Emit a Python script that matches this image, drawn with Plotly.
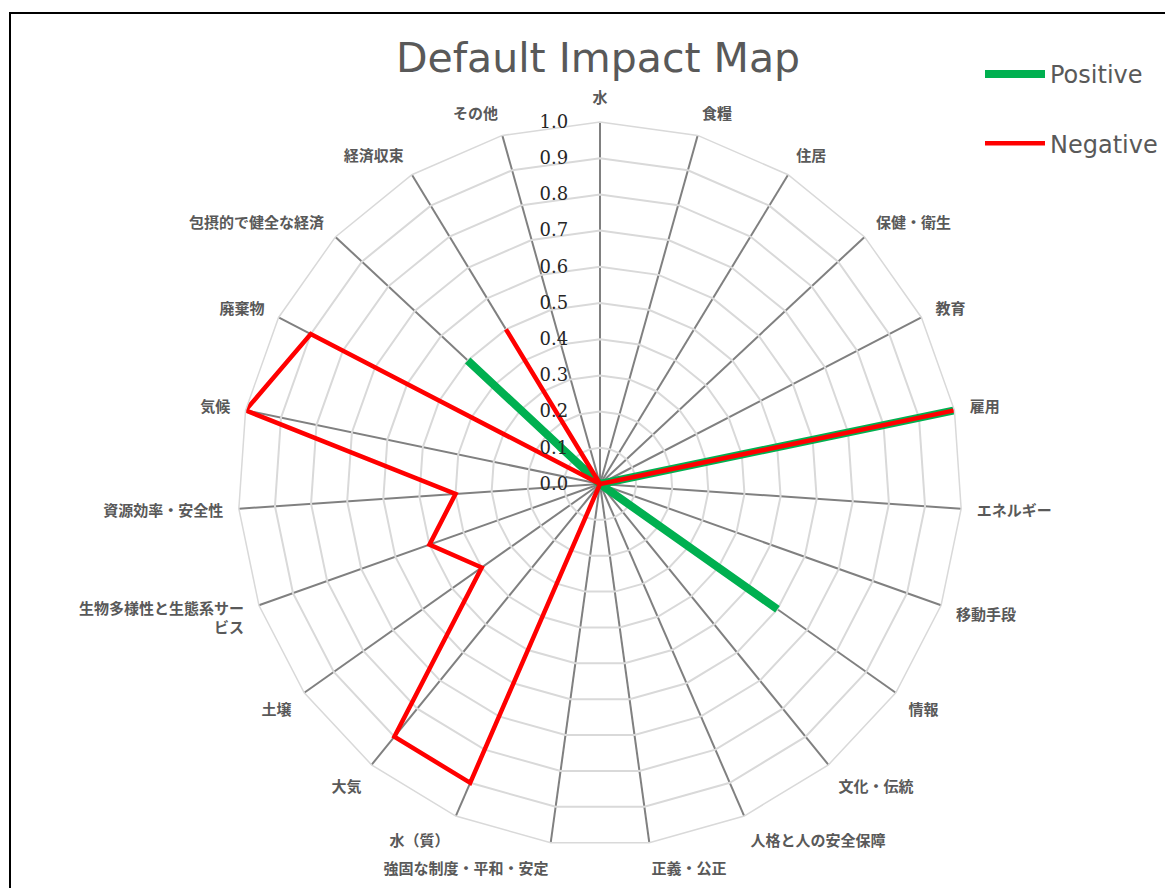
import plotly.graph_objects as go

categories = ["水", "食糧", "住居", "保健・衛生", "教育", "雇用", "エネルギー", "移動手段",
              "情報", "文化・伝統", "人格と人の安全保障", "正義・公正", "強固な制度・平和・安定",
              "水（質）", "大気", "土壌", "生物多様性と生態系サー<br>ビス", "資源効率・安全性",
              "気候", "廃棄物", "包摂的で健全な経済", "経済収束", "その他"]
positive = [0, 0, 0, 0, 0, 1.0, 0, 0, 0.6, 0, 0, 0, 0,
            0, 0, 0, 0, 0, 0, 0, 0.5, 0, 0]
negative = [0, 0, 0, 0, 0, 1.0, 0, 0, 0, 0, 0, 0, 0,
            0.9, 0.9, 0.4, 0.5, 0.4, 1.0, 0.9, 0, 0.5, 0]
radial_ticks = [0.0, 0.1, 0.2, 0.3, 0.4, 0.5, 0.6, 0.7, 0.8, 0.9, 1.0]

W, H = 1173, 888
CX, CY, R = 592, 476, 362  # polar centre/radius in figure px

fig = go.Figure()
fig.add_trace(go.Scatterpolar(
    r=positive + positive[:1], theta=categories + categories[:1], mode="lines",
    name="Positive", line=dict(color="#00b050", width=8), legendgroup="p"))
fig.add_trace(go.Scatterpolar(
    r=negative + negative[:1], theta=categories + categories[:1], mode="lines",
    name="Negative", line=dict(color="#ff0000", width=4.5), legendgroup="n"))

fig.update_layout(
    width=W, height=H,
    margin=dict(l=0, r=0, t=0, b=0),
    paper_bgcolor="white",
    title=dict(text="Default Impact Map", x=590 / W, xanchor="center", y=1 - 50 / H, yanchor="middle",
               font=dict(family="DejaVu Sans", size=41, color="#595959")),
    polar=dict(
        domain=dict(x=[(CX - R) / W, (CX + R) / W], y=[1 - (CY + R) / H, 1 - (CY - R) / H]),
        bgcolor="white",
        gridshape="linear",
        angularaxis=dict(
            rotation=90, direction="clockwise", type="category",
            gridcolor="#808080", gridwidth=1.5,
            showline=True, linecolor="#d9d9d9", linewidth=1.5,
            ticks="outside", ticklen=12, tickcolor="rgba(0,0,0,0)",
            tickfont=dict(family="Noto Sans CJK JP", size=15, color="#595959", weight="bold"),
        ),
        radialaxis=dict(
            range=[0, 1], tickvals=radial_ticks, tickformat=".1f", angle=90, tickangle=90,
            side="counterclockwise", showline=False,
            ticks="outside", ticklen=25, tickcolor="rgba(0,0,0,0)",
            gridcolor="#d9d9d9", gridwidth=1.5,
            tickfont=dict(family="DejaVu Serif", size=18, color="#262626"),
        ),
    ),
    legend=dict(x=972 / W, y=1 - 44 / H, xanchor="left", yanchor="top",
                font=dict(family="DejaVu Sans", size=24, color="#595959"),
                tracegroupgap=35, itemwidth=60, bgcolor="rgba(0,0,0,0)"),
    showlegend=True,
    shapes=[dict(type="rect", xref="paper", yref="paper", x0=2 / W, x1=1.05, y0=-0.05, y1=1 - 5 / H,
                 line=dict(color="black", width=2), layer="above")],
)

fig.write_html("out.html")
